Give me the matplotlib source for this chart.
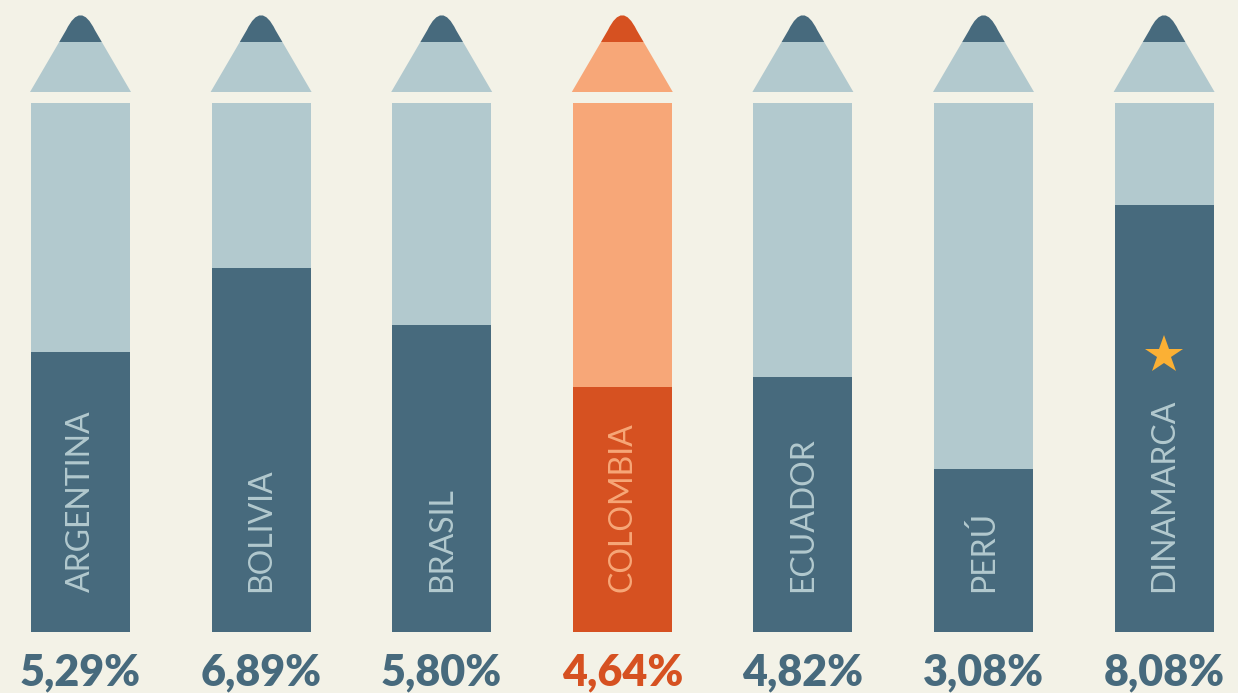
import matplotlib
matplotlib.use("Agg")
import matplotlib.pyplot as plt
from matplotlib.patches import Polygon, PathPatch
from matplotlib.path import Path

countries = ["ARGENTINA", "BOLIVIA", "BRASIL", "COLOMBIA", "ECUADOR", "PERÚ", "DINAMARCA"]
values = [5.29, 6.89, 5.80, 4.64, 4.82, 3.08, 8.08]
value_labels = ["5,29%", "6,89%", "5,80%", "4,64%", "4,82%", "3,08%", "8,08%"]
highlight = "COLOMBIA"
starred = "DINAMARCA"
max_value = 10.0

BG = "#f3f2e7"
DARK = "#476a7d"
LIGHT = "#b2c9ce"
ODARK = "#d65121"
OLIGHT = "#f7a778"
STAR = "#fbb034"

W, H = 1238, 693
fig = plt.figure(figsize=(W / 100, H / 100), dpi=100, facecolor=BG)
ax = fig.add_axes([0, 0, 1, 1])
ax.set_facecolor(BG)

# pixel <-> data mapping
x0_px, dx_px = 80.5, 180.6
y0_px, py_per_unit = 632.0, 52.9
ax.set_xlim(-x0_px / dx_px, (W - x0_px) / dx_px)
ax.set_ylim(-(H - y0_px) / py_per_unit, y0_px / py_per_unit)
ax.axis("off")

def ux(px):  # pixel width -> x units
    return px / dx_px

def uy(py):  # pixel y (from top) -> y units
    return (y0_px - py) / py_per_unit

bar_w = ux(99)

for i, (c, v, lab) in enumerate(zip(countries, values, value_labels)):
    hl = c == highlight
    dk = ODARK if hl else DARK
    lt = OLIGHT if hl else LIGHT
    ax.bar(i, max_value, width=bar_w, color=lt, linewidth=0, zorder=1)
    ax.bar(i, v, width=bar_w, color=dk, linewidth=0, zorder=2)

    # pencil tip: light trapezoid
    base_hw = ux(50.5)
    cut_hw = ux(21.3)
    ax.add_patch(Polygon([(i - base_hw, uy(92)), (i + base_hw, uy(92)),
                          (i + cut_hw, uy(42)), (i - cut_hw, uy(42))],
                         closed=True, facecolor=lt, edgecolor="none", zorder=2))
    # dark rounded lead
    slope = 0.584
    hw30 = ux((30 - 5.5) * slope)
    verts = [(i - cut_hw, uy(42)), (i - hw30, uy(30)), (i, uy(0.5)),
             (i + hw30, uy(30)), (i + cut_hw, uy(42)), (i - cut_hw, uy(42))]
    codes = [Path.MOVETO, Path.LINETO, Path.CURVE3, Path.CURVE3, Path.LINETO, Path.CLOSEPOLY]
    ax.add_patch(PathPatch(Path(verts, codes), facecolor=dk, edgecolor="none", zorder=3))

    ax.text(i, uy(592), c, rotation=90, ha="center", va="bottom",
            fontsize=23, color=lt, family=["Lato", "DejaVu Sans"], zorder=4)
    ax.text(i, uy(685), lab, ha="center", va="baseline", fontsize=31,
            fontweight="heavy", color=dk, family=["Lato", "DejaVu Sans"], zorder=4)

    if c == starred:
        ax.plot([i], [uy(355)], marker="*", markersize=29, color=STAR,
                markeredgewidth=0, zorder=5)

fig.savefig("out.png", dpi=100, facecolor=BG)
